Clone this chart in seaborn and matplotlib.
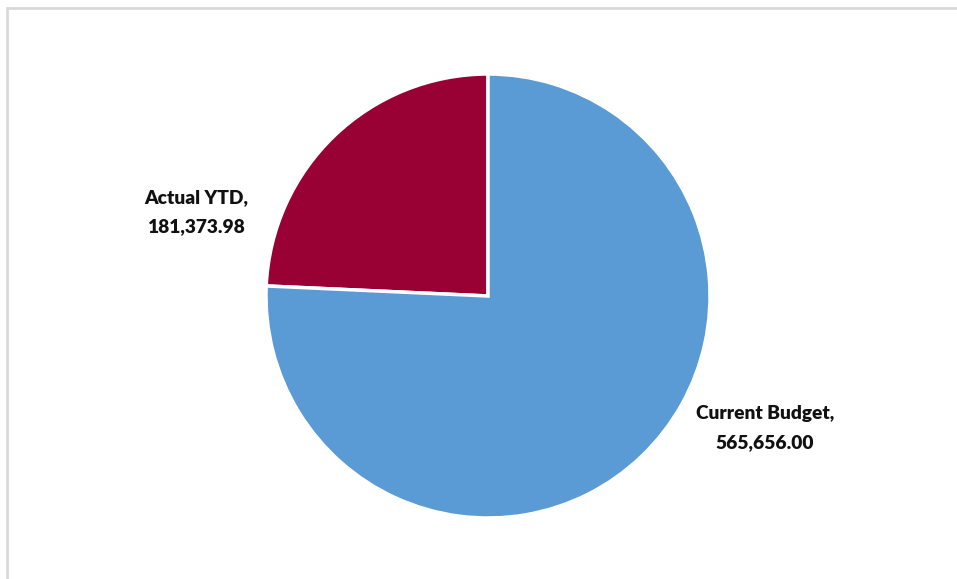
import matplotlib
matplotlib.use("Agg")
import matplotlib.pyplot as plt
import seaborn as sns
from matplotlib.patches import Rectangle

categories = ["Actual YTD", "Current Budget"]
values = [181373.98, 565656.00]
colors = ["#990033", "#5B9BD5"]

sns.set_theme(style="white")
plt.rcParams['font.family'] = ['Lato', 'DejaVu Sans']

fig = plt.figure(figsize=(9.57, 5.79), dpi=100)
fig.patch.set_facecolor("white")

W, H = 957, 579
cx, cy, r = 488, 296, 222
ax = fig.add_axes([(cx - r) / W, (H - cy - r) / H, 2 * r / W, 2 * r / H])
wedges, _ = ax.pie(values, colors=colors, startangle=90, counterclock=True,
                   wedgeprops=dict(edgecolor="white", linewidth=2.5))
ax.set_xlim(-1, 1)
ax.set_ylim(-1, 1)
ax.set_axis_off()

label_pos = [(-1.315, 0.378), (1.248, -0.595)]
for cat, val, (x, y) in zip(categories, values, label_pos):
    ax.text(x, y, f"{cat},\n{val:,.2f}", ha="center", va="center",
            fontsize=13.8, fontweight="heavy", color="#111111",
            linespacing=1.8, clip_on=False)

# outer chart frame (only top/left visible in the reference)
fig.patches.append(Rectangle((6.5 / W, -0.1), 1.2, (H - 7.5) / H + 0.1,
                             transform=fig.transFigure, fill=False,
                             edgecolor="#d9d9d9", linewidth=2))

fig.savefig("out.png", dpi=100, facecolor="white")
